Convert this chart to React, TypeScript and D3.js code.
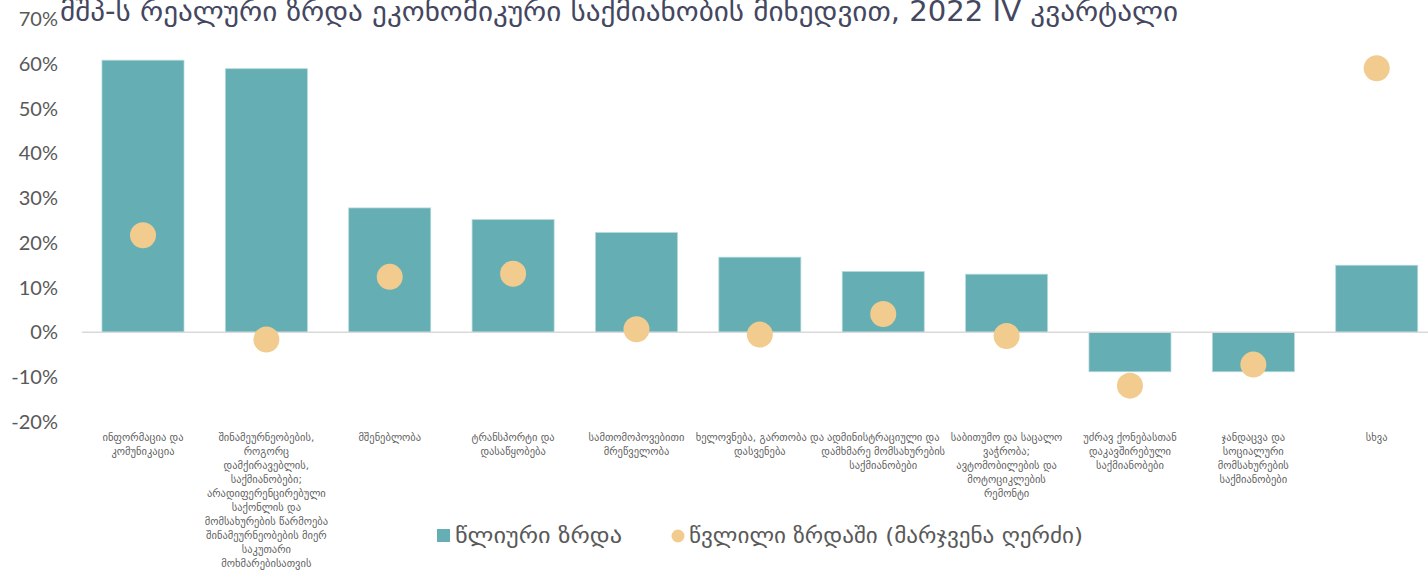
import React from "react";
import * as d3 from "d3";

const title = "მშპ-ს რეალური ზრდა ეკონომიკური საქმიანობის მიხედვით, 2022 IV კვარტალი";

const categories: string[][] = [
  ["ინფორმაცია და", "კომუნიკაცია"],
  [
    "შინამეურნეობების,",
    "როგორც",
    "დამქირავებლის,",
    "საქმიანობები;",
    "არადიფერენცირებული",
    "საქონლის და",
    "მომსახურების წარმოება",
    "შინამეურნეობების მიერ",
    "საკუთარი",
    "მოხმარებისათვის",
  ],
  ["მშენებლობა"],
  ["ტრანსპორტი და", "დასაწყობება"],
  ["სამთომოპოვებითი", "მრეწველობა"],
  ["ხელოვნება, გართობა და", "დასვენება"],
  ["ადმინისტრაციული და", "დამხმარე მომსახურების", "საქმიანობები"],
  ["საბითუმო და საცალო", "ვაჭრობა;", "ავტომობილების და", "მოტოციკლების", "რემონტი"],
  ["უძრავ ქონებასთან", "დაკავშირებული", "საქმიანობები"],
  ["ჯანდაცვა და", "სოციალური", "მომსახურების", "საქმიანობები"],
  ["სხვა"],
];

// annual growth, %
const annualGrowth = [60.8, 58.9, 27.8, 25.2, 22.3, 16.8, 13.6, 13.0, -8.8, -8.8, 15.0];
// contribution to growth, percentage points (right axis)
const contribution = [2.17, -0.16, 1.24, 1.31, 0.07, -0.05, 0.41, -0.08, -1.19, -0.72, 5.9];

const leftTicks = [-20, -10, 0, 10, 20, 30, 40, 50, 60, 70];

const legendLabels = ["წლიური ზრდა", "წვლილი ზრდაში (მარჯვენა ღერძი)"];

const W = 1428;
const H = 572;
const BAR = "#65afb4";
const DOT = "#f2cb8e";
const GEO = "'DejaVu Sans', 'Noto Sans', sans-serif";

export default function App() {
  const idx = categories.map((_, i) => String(i));
  const x = d3.scaleBand<string>().domain(idx).range([81.3, 1438.4]).paddingInner(0.335).paddingOuter(0.1675);
  const y = d3.scaleLinear().domain([-20, 70]).range([421.9, 19]);
  const yR = d3.scaleLinear().domain([-2, 7]).range([421.9, 19]);
  const fmt = (v: number) => `${v}%`;

  return (
    <svg
      width={W}
      height={H}
      style={{ position: "fixed", left: 0, top: 0, background: "#fff" }}
      xmlns="http://www.w3.org/2000/svg"
    >
      <rect width={W} height={H} fill="#fff" />
      {/* y axis labels */}
      {leftTicks.map((t) => (
        <text
          key={t}
          x={58}
          y={y(t)}
          dy="0.35em"
          textAnchor="end"
          fontFamily="Lato, 'Open Sans', sans-serif"
          fontSize={20}
          fill="#595959"
        >
          {fmt(t)}
        </text>
      ))}
      {/* bars */}
      {annualGrowth.map((v, i) => (
        <rect
          key={i}
          x={x(String(i))}
          width={x.bandwidth()}
          y={Math.min(y(v), y(0))}
          height={Math.abs(y(v) - y(0))}
          fill={BAR}
          stroke="#b7dadc"
          strokeWidth={0.75}
        />
      ))}
      {/* zero line */}
      <line x1={82} x2={W} y1={y(0)} y2={y(0)} stroke="#d9d9d9" strokeWidth={1.5} />
      {/* dots */}
      {contribution.map((v, i) => (
        <circle key={i} cx={(x(String(i)) as number) + x.bandwidth() / 2} cy={yR(v)} r={13} fill={DOT} />
      ))}
      {/* category labels */}
      {categories.map((lines, i) => (
        <text
          key={i}
          x={(x(String(i)) as number) + x.bandwidth() / 2}
          y={437}
          textAnchor="middle"
          fontFamily={GEO}
          fontSize={10.5}
          fill="#5f5f5f"
        >
          {lines.map((l, j) => (
            <tspan key={j} x={(x(String(i)) as number) + x.bandwidth() / 2} y={437 + j * 14} dy="0.35em">
              {l}
            </tspan>
          ))}
        </text>
      ))}
      {/* legend */}
      <rect x={437} y={529} width={13} height={13} fill={BAR} />
      <text
        x={455}
        y={536}
        dy="0.35em"
        fontFamily={GEO}
        fontSize={21}
        fill="#595959"
        textLength={167}
        lengthAdjust="spacingAndGlyphs"
      >
        {legendLabels[0]}
      </text>
      <circle cx={678} cy={536} r={6.5} fill={DOT} />
      <text
        x={689}
        y={536}
        dy="0.35em"
        fontFamily={GEO}
        fontSize={21}
        fill="#595959"
        textLength={394}
        lengthAdjust="spacingAndGlyphs"
      >
        {legendLabels[1]}
      </text>
      {/* title */}
      <text
        x={60}
        y={11}
        dy="0.35em"
        fontFamily={GEO}
        fontSize={28}
        fill="#44475f"
        textLength={1118}
        lengthAdjust="spacingAndGlyphs"
      >
        {title}
      </text>
    </svg>
  );
}
